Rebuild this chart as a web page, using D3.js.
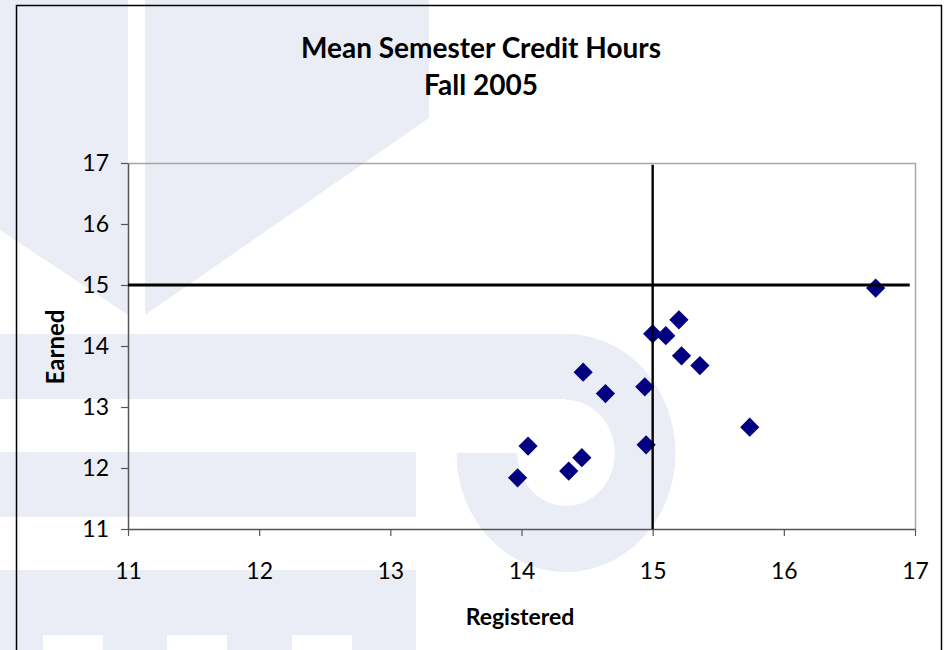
<!DOCTYPE html>
<html>
<head>
<meta charset="utf-8">
<script src="https://cdn.jsdelivr.net/npm/d3@7"></script>
<style>
  body { margin: 0; background: #fff; }
  text { font-family: Lato, "Open Sans", sans-serif; fill: #000; }
</style>
</head>
<body>
<svg id="chart" width="944" height="650"></svg>
<script>
// data
var registered = [13.97, 14.05, 14.36, 14.46, 14.47, 14.64, 14.94, 14.95, 15.00, 15.10, 15.20, 15.22, 15.36, 15.74, 16.70];
var earned     = [11.84, 12.36, 11.95, 12.17, 13.57, 13.22, 13.33, 12.38, 14.20, 14.17, 14.43, 13.84, 13.68, 12.67, 14.95];
var xTicks = [11, 12, 13, 14, 15, 16, 17];
var yTicks = [11, 12, 13, 14, 15, 16, 17];
var refRegistered = 15, refEarned = 15;
var titleLines = ["Mean Semester Credit Hours", "Fall 2005"];

var points = registered.map(function(r, i) { return {x: r, y: earned[i]}; });

var svg = d3.select("#chart"),
    margin = {top: 163, right: 29, bottom: 121, left: 128},
    width = +svg.attr("width") - margin.left - margin.right,
    height = +svg.attr("height") - margin.top - margin.bottom;

// faint watermark behind the chart
var wm = "#eaedf5";
var bg = svg.append("g");
bg.append("polygon").attr("points", "0,0 128,0 128,315 0,230").attr("fill", wm);
bg.append("polygon").attr("points", "145,0 429,0 429,118 145,315").attr("fill", wm);
bg.append("rect").attr("x", 0).attr("y", 334).attr("width", 566).attr("height", 65).attr("fill", wm);
bg.append("path")
    .attr("transform", "translate(566,453) scale(0.92,1)")
    .attr("d", d3.arc()({innerRadius: 53, outerRadius: 119, startAngle: 0, endAngle: 1.5 * Math.PI}))
    .attr("fill", wm);
bg.append("rect").attr("x", 0).attr("y", 452).attr("width", 416).attr("height", 65).attr("fill", wm);
bg.append("rect").attr("x", 0).attr("y", 570).attr("width", 416).attr("height", 80).attr("fill", wm);
[43, 167, 292].forEach(function(x0) {
  bg.append("rect").attr("x", x0).attr("y", 635).attr("width", 60).attr("height", 15).attr("fill", "#fff");
});

// chart frame
svg.append("rect")
    .attr("x", 16.5).attr("y", 5.5)
    .attr("width", 925).attr("height", 700)
    .attr("fill", "none").attr("stroke", "#000").attr("stroke-width", 1.5);

var x = d3.scaleLinear().domain([11, 17]).range([0, width]),
    y = d3.scaleLinear().domain([11, 17]).range([height, 0]);

var g = svg.append("g")
    .attr("transform", "translate(" + margin.left + "," + margin.top + ")");

// top / right plot border
g.append("path")
    .attr("d", "M0,0.5H" + (width + 0.5) + "V" + height)
    .attr("fill", "none").attr("stroke", "#a6a6a6").attr("stroke-width", 1.5);

function styleAxis(a) {
  a.attr("font-size", 23).attr("font-family", "Lato, sans-serif");
  a.select(".domain").attr("stroke", "#555").attr("stroke-width", 1.5);
  a.selectAll(".tick line").attr("stroke", "#555").attr("stroke-width", 1.2);
}

g.append("g")
    .attr("class", "axis axis--x")
    .attr("transform", "translate(0," + height + ")")
    .call(d3.axisBottom(x).tickValues(xTicks).tickFormat(d3.format("d"))
      .tickSizeInner(7).tickSizeOuter(0).tickPadding(27))
    .call(styleAxis);

g.append("g")
    .attr("class", "axis axis--y")
    .call(d3.axisLeft(y).tickValues(yTicks).tickFormat(d3.format("d"))
      .tickSizeInner(7).tickSizeOuter(0).tickPadding(12))
    .call(styleAxis);

// points
g.selectAll(".pt")
    .data(points)
  .enter().append("path")
    .attr("class", "pt")
    .attr("transform", function(d) { return "translate(" + x(d.x) + "," + y(d.y) + ") rotate(45)"; })
    .attr("d", d3.symbol().type(d3.symbolSquare).size(185))
    .attr("fill", "#000080");

// reference lines
g.append("line")
    .attr("x1", x(11)).attr("x2", x(16.96))
    .attr("y1", y(refEarned)).attr("y2", y(refEarned))
    .attr("stroke", "#000").attr("stroke-width", 3);
g.append("line")
    .attr("x1", x(refRegistered)).attr("x2", x(refRegistered))
    .attr("y1", y(16.97)).attr("y2", y(11))
    .attr("stroke", "#000").attr("stroke-width", 2.4);

// titles
svg.append("g")
    .attr("font-weight", "bold")
    .attr("font-size", 28)
    .attr("text-anchor", "middle")
    .selectAll("text")
    .data(titleLines)
  .enter().append("text")
    .attr("x", 481)
    .attr("y", function(d, i) { return 58 + i * 37; })
    .text(function(d) { return d; });

svg.append("text")
    .attr("x", 520).attr("y", 625)
    .attr("text-anchor", "middle")
    .attr("font-weight", "bold").attr("font-size", 23)
    .text("Registered");

svg.append("text")
    .attr("transform", "translate(64,347) rotate(-90)")
    .attr("text-anchor", "middle")
    .attr("font-weight", "bold").attr("font-size", 24)
    .text("Earned");
</script>
</body>
</html>
